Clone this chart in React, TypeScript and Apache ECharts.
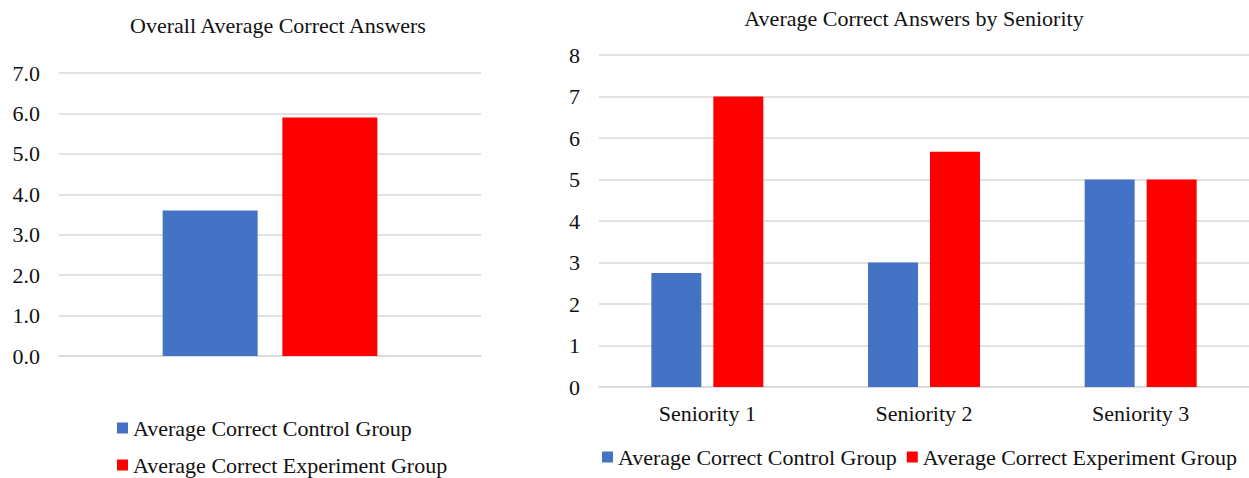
import React, { useEffect, useRef } from "react";
import * as echarts from "echarts";

const seriesNames = ["Average Correct Control Group", "Average Correct Experiment Group"];
const overallCategories = [""];
const overallControl = [3.6];
const overallExperiment = [5.9];
const seniorityCategories = ["Seniority 1", "Seniority 2", "Seniority 3"];
const seniorityControl = [2.75, 3.0, 5.0];
const seniorityExperiment = [7.0, 5.67, 5.0];
const titles = ["Overall Average Correct Answers", "Average Correct Answers by Seniority"];

const BLUE = "#4472c4";
const RED = "#ff0000";
const FONT = "Liberation Serif";
const TEXT = "#111111";
const GRID = "#d9d9d9";
const FS = 22;

export default function App() {
  const ref = useRef<HTMLDivElement>(null);
  useEffect(() => {
    if (!ref.current) return;
    const chart = echarts.init(ref.current, undefined, { renderer: "svg" });
    const label = { color: TEXT, fontFamily: FONT, fontSize: FS };
    chart.setOption({
      animation: false,
      backgroundColor: "#ffffff",
      textStyle: { fontFamily: FONT },
      graphic: [
        {
          type: "text",
          x: 278,
          y: 25,
          style: {
            text: titles[0],
            fill: TEXT,
            fontFamily: FONT,
            fontSize: FS,
            textAlign: "center",
            textVerticalAlign: "middle",
          },
        },
        {
          type: "text",
          x: 914,
          y: 18,
          style: {
            text: titles[1],
            fill: TEXT,
            fontFamily: FONT,
            fontSize: FS,
            textAlign: "center",
            textVerticalAlign: "middle",
          },
        },
      ],
      legend: [
        {
          orient: "vertical",
          left: 117,
          top: 417,
          padding: 0,
          itemWidth: 11,
          itemHeight: 11,
          itemGap: 15,
          icon: "rect",
          data: seriesNames,
          textStyle: { ...label, lineHeight: 22 },
          selectedMode: false,
        },
        {
          orient: "horizontal",
          left: 602,
          top: 446,
          padding: 0,
          itemWidth: 11,
          itemHeight: 11,
          itemGap: 10,
          icon: "rect",
          data: seriesNames,
          textStyle: { ...label, lineHeight: 22 },
          selectedMode: false,
        },
      ],
      grid: [
        { left: 59, top: 73, width: 422, height: 283 },
        { left: 599, top: 55, width: 650, height: 332 },
      ],
      xAxis: [
        {
          type: "category",
          gridIndex: 0,
          data: overallCategories,
          axisLine: { show: true, lineStyle: { color: GRID, width: 1.5 } },
          axisTick: { show: false },
          axisLabel: { show: false },
        },
        {
          type: "category",
          gridIndex: 1,
          data: seniorityCategories,
          axisLine: { show: true, lineStyle: { color: GRID, width: 1.5 } },
          axisTick: { show: false },
          axisLabel: { ...label, margin: 15 },
        },
      ],
      yAxis: [
        {
          type: "value",
          gridIndex: 0,
          min: 0,
          max: 7,
          interval: 1,
          axisLine: { show: false },
          axisTick: { show: false },
          splitLine: { lineStyle: { color: GRID, width: 1.5 } },
          axisLabel: { ...label, margin: 19, formatter: (v: number) => v.toFixed(1) },
        },
        {
          type: "value",
          gridIndex: 1,
          min: 0,
          max: 8,
          interval: 1,
          axisLine: { show: false },
          axisTick: { show: false },
          splitLine: { lineStyle: { color: GRID, width: 1.5 } },
          axisLabel: { ...label, margin: 19 },
        },
      ],
      series: [
        {
          name: seriesNames[0],
          type: "bar",
          xAxisIndex: 0,
          yAxisIndex: 0,
          data: overallControl,
          barWidth: 95,
          barGap: "26%",
          itemStyle: { color: BLUE },
        },
        {
          name: seriesNames[1],
          type: "bar",
          xAxisIndex: 0,
          yAxisIndex: 0,
          data: overallExperiment,
          barWidth: 95,
          barGap: "26%",
          itemStyle: { color: RED },
        },
        {
          name: seriesNames[0],
          type: "bar",
          xAxisIndex: 1,
          yAxisIndex: 1,
          data: seniorityControl,
          barWidth: 50,
          barGap: "24%",
          itemStyle: { color: BLUE },
        },
        {
          name: seriesNames[1],
          type: "bar",
          xAxisIndex: 1,
          yAxisIndex: 1,
          data: seniorityExperiment,
          barWidth: 50,
          barGap: "24%",
          itemStyle: { color: RED },
        },
      ],
    });
    return () => chart.dispose();
  }, []);
  return (
    <div
      ref={ref}
      style={{ position: "fixed", left: 0, top: 0, width: 1249, height: 478, background: "#fff" }}
    />
  );
}
